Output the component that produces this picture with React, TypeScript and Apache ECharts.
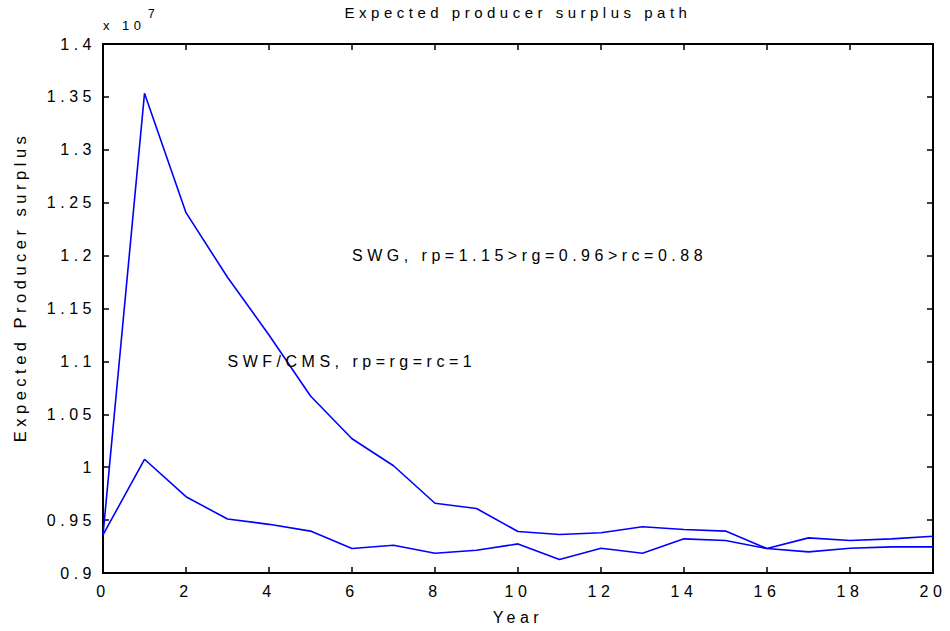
import { useEffect, useRef } from 'react';
import * as echarts from 'echarts';

// Year index (x axis)
const years = [0, 1, 2, 3, 4, 5, 6, 7, 8, 9, 10, 11, 12, 13, 14, 15, 16, 17, 18, 19, 20];

// Expected producer surplus, in units of 10^7
const swgValues = [0.936, 1.3534, 1.2406, 1.1795, 1.125, 1.0673, 1.0269, 1.0014, 0.9659, 0.961, 0.9392, 0.9364, 0.938, 0.9437, 0.9411, 0.9396, 0.9231, 0.9332, 0.9307, 0.9323, 0.9348];
const swfValues = [0.936, 1.0075, 0.9721, 0.951, 0.946, 0.9396, 0.9231, 0.9263, 0.9187, 0.9215, 0.9275, 0.9127, 0.9234, 0.9187, 0.9323, 0.9307, 0.9231, 0.92, 0.9234, 0.9247, 0.9247];

// Axis ranges
const xMin = 0;
const xMax = 20;
const xInterval = 2;
const yMin = 0.9;
const yMax = 1.4;
const yInterval = 0.05;

// Texts
const titleText = 'Expected producer surplus path';
const xName = 'Year';
const yName = 'Expected Producer surplus';
const scaleBase = 'x 10';
const scaleExp = '7';
const swgLabel = 'SWG, rp=1.15>rg=0.96>rc=0.88';
const swfLabel = 'SWF/CMS, rp=rg=rc=1';
const swgLabelAt = [6, 1.2];
const swfLabelAt = [3, 1.1];

const FONT = '"Liberation Sans", Arial, Helvetica, sans-serif';

export default function App() {
  const ref = useRef<HTMLDivElement>(null);

  useEffect(() => {
    if (!ref.current) return;
    const chart = echarts.init(ref.current, null, { renderer: 'svg' });
    const axisLine = { show: true, onZero: false, lineStyle: { color: '#000', width: 2 } };
    const axisTick = { show: true, inside: true, length: 6, lineStyle: { color: '#000', width: 1.5 } };
    chart.setOption({
      animation: false,
      backgroundColor: '#fff',
      textStyle: { fontFamily: FONT, color: '#000' },
      grid: { left: 103, right: 17, top: 44, bottom: 58, containLabel: false },
      xAxis: [
        {
          type: 'value', min: xMin, max: xMax, interval: xInterval, position: 'bottom',
          axisLine, axisTick, splitLine: { show: false },
          axisLabel: { fontSize: 16, color: '#000', margin: 10, fontFamily: FONT },
          name: xName, nameLocation: 'middle', nameGap: 36,
          nameTextStyle: { fontSize: 16, color: '#000', fontFamily: FONT },
        },
        {
          type: 'value', min: xMin, max: xMax, interval: xInterval, position: 'top',
          axisLine, axisTick, splitLine: { show: false }, axisLabel: { show: false },
          name: titleText, nameLocation: 'middle', nameGap: 24,
          nameTextStyle: { fontSize: 15, color: '#000', fontFamily: FONT },
        },
      ],
      yAxis: [
        {
          type: 'value', min: yMin, max: yMax, interval: yInterval, position: 'left',
          axisLine, axisTick, splitLine: { show: false },
          axisLabel: { fontSize: 16, color: '#000', margin: 7, fontFamily: FONT },
        },
        {
          type: 'value', min: yMin, max: yMax, interval: yInterval, position: 'right',
          axisLine, axisTick, splitLine: { show: false }, axisLabel: { show: false },
        },
      ],
      graphic: [
        {
          type: 'text', x: 20, y: 287, rotation: Math.PI / 2,
          style: { text: yName, fontSize: 16.5, fill: '#000', fontFamily: FONT, align: 'center', verticalAlign: 'middle' },
        },
        {
          type: 'text', left: 103, top: 19,
          style: { text: scaleBase, fontSize: 13, fill: '#000', fontFamily: FONT },
        },
        {
          type: 'text', left: 148, top: 8,
          style: { text: scaleExp, fontSize: 12, fill: '#000', fontFamily: FONT },
        },
      ],
      series: [
        {
          name: 'SWG', type: 'line', symbol: 'none', xAxisIndex: 0, yAxisIndex: 0,
          data: years.map((y, i) => [y, swgValues[i]]),
          lineStyle: { color: '#0000ff', width: 1.6 },
          markPoint: {
            symbol: 'circle', symbolSize: 0, silent: true,
            label: { show: true, position: 'right', distance: 0, fontSize: 16, color: '#000', fontFamily: FONT, formatter: (p: any) => p.name },
            data: [
              { name: swgLabel, coord: swgLabelAt },
              { name: swfLabel, coord: swfLabelAt },
            ],
          },
        },
        {
          name: 'SWF/CMS', type: 'line', symbol: 'none', xAxisIndex: 0, yAxisIndex: 0,
          data: years.map((y, i) => [y, swfValues[i]]),
          lineStyle: { color: '#0000ff', width: 1.6 },
        },
      ],
    });
    return () => chart.dispose();
  }, []);

  return (
    <>
      <style>{`#chart-root svg text { letter-spacing: 4.5px; }`}</style>
      <div
        id="chart-root"
        ref={ref}
        style={{ position: 'fixed', left: 0, top: 0, width: 950, height: 631, background: '#fff' }}
      />
    </>
  );
}
